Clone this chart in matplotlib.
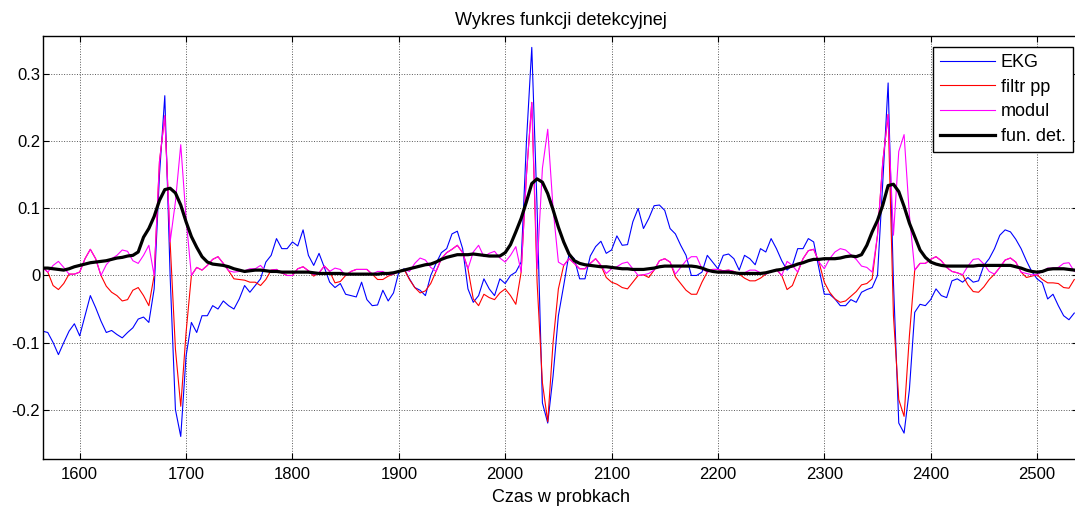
import matplotlib
matplotlib.use('Agg')
import matplotlib.pyplot as plt
import matplotlib.ticker as mtick
import numpy as np

# probki co 5, od 1565 do 2535
probka_start = 1565
probka_krok = 5

ekg = [
    -0.083, -0.085, -0.100, -0.118, -0.100, -0.083, -0.072, -0.090, -0.060, -0.030,
    -0.048, -0.068, -0.085, -0.082, -0.088, -0.093, -0.085, -0.078, -0.065, -0.062,
    -0.070, -0.020, 0.150, 0.268, 0.000, -0.200, -0.240, -0.120, -0.070, -0.085,
    -0.060, -0.060, -0.045, -0.050, -0.038, -0.045, -0.050, -0.035, -0.015, -0.025,
    -0.015, -0.005, 0.020, 0.030, 0.055, 0.040, 0.040, 0.050, 0.044, 0.068,
    0.030, 0.015, 0.033, 0.012, -0.010, -0.018, -0.012, -0.028, -0.030, -0.032,
    -0.010, -0.036, -0.045, -0.044, -0.022, -0.038, -0.026, 0.005, 0.010, -0.005,
    -0.018, -0.022, -0.030, 0.000, 0.018, 0.034, 0.040, 0.062, 0.066, 0.040,
    -0.020, -0.040, -0.030, -0.005, -0.020, -0.030, -0.005, -0.012, 0.000, 0.005,
    0.020, 0.200, 0.340, 0.100, -0.190, -0.220, -0.150, -0.060, -0.015, 0.032,
    0.025, -0.005, -0.005, 0.029, 0.043, 0.051, 0.033, 0.038, 0.059, 0.045,
    0.046, 0.080, 0.100, 0.070, 0.085, 0.104, 0.105, 0.097, 0.070,
    0.062, 0.045, 0.030, 0.000, 0.000, 0.005, 0.030, 0.020, 0.010, 0.030,
    0.032, 0.025, 0.008, 0.030, 0.025, 0.016, 0.040, 0.035, 0.055, 0.040,
    0.022, 0.008, 0.015, 0.040, 0.040, 0.055, 0.050, 0.010, -0.028, -0.028,
    -0.035, -0.045, -0.045, -0.036, -0.040, -0.025, -0.021, -0.018, 0.000, 0.140,
    0.287, -0.010, -0.220, -0.235, -0.170, -0.055, -0.043, -0.045, -0.036, -0.020,
    -0.030, -0.033, -0.008, -0.005, -0.010, -0.003, -0.010, -0.008, 0.015, 0.025,
    0.040, 0.060, 0.068, 0.065, 0.054, 0.040, 0.022, 0.006, -0.005, -0.011,
    -0.035, -0.028, -0.045, -0.060, -0.066, -0.056,
]

filtr_pp = [
    0.012, 0.005, -0.015, -0.021, -0.012, 0.002, 0.002, 0.005, 0.025, 0.039,
    0.025, 0.000, -0.016, -0.025, -0.030, -0.038, -0.036, -0.022, -0.018, -0.030,
    -0.045, 0.000, 0.170, 0.238, 0.050, -0.110, -0.195, -0.085, 0.000, 0.012,
    0.008, 0.015, 0.024, 0.028, 0.018, 0.007, -0.005, -0.006, -0.007, -0.010,
    -0.010, -0.015, -0.006, 0.008, 0.009, 0.004, 0.000, 0.000, 0.010, 0.013,
    0.007, -0.001, 0.004, 0.014, 0.006, -0.011, -0.009, 0.000, 0.006, 0.009,
    0.009, 0.009, 0.002, -0.006, -0.006, -0.001, 0.002, 0.006, 0.009, -0.006,
    -0.018, -0.026, -0.023, -0.012, 0.006, 0.025, 0.034, 0.039, 0.045, 0.034,
    0.010, -0.035, -0.045, -0.028, -0.033, -0.036, -0.026, -0.020, -0.030, -0.043,
    0.005, 0.150, 0.258, -0.010, -0.160, -0.218, -0.100, -0.020, 0.015, 0.025,
    0.018, 0.010, 0.010, 0.018, 0.025, 0.015, -0.003, -0.010, -0.013, -0.018,
    -0.020, -0.010, 0.000, 0.001, -0.003, 0.008, 0.022, 0.025, 0.020,
    -0.002, -0.012, -0.022, -0.028, -0.028, -0.010, 0.005, 0.009, 0.009, 0.007,
    0.008, 0.006, 0.002, -0.004, -0.008, -0.008, -0.004, 0.002, 0.006, 0.009,
    0.000, -0.021, -0.015, 0.005, 0.025, 0.037, 0.039, 0.020, -0.010, -0.025,
    -0.035, -0.040, -0.038, -0.031, -0.024, -0.014, -0.012, -0.005, 0.060, 0.170,
    0.240, -0.060, -0.185, -0.210, -0.090, 0.008, 0.018, 0.018, 0.024, 0.028,
    0.022, 0.012, 0.006, 0.004, 0.001, -0.014, -0.024, -0.025, -0.017, -0.006,
    0.002, 0.012, 0.023, 0.026, 0.020, 0.005, -0.003, -0.001, 0.001, -0.006,
    -0.011, -0.011, -0.012, -0.018, -0.019, -0.006,
]

fun_det = [
    0.011, 0.011, 0.010, 0.009, 0.008, 0.010, 0.013, 0.015, 0.017, 0.019,
    0.020, 0.021, 0.022, 0.024, 0.026, 0.027, 0.029, 0.030, 0.035, 0.057,
    0.070, 0.088, 0.112, 0.128, 0.130, 0.123, 0.105, 0.080, 0.058, 0.042,
    0.028, 0.020, 0.017, 0.016, 0.015, 0.013, 0.010, 0.008, 0.006, 0.007,
    0.008, 0.008, 0.007, 0.006, 0.006, 0.005, 0.005, 0.005, 0.005, 0.005,
    0.005, 0.004, 0.003, 0.003, 0.003, 0.003, 0.003, 0.002, 0.002, 0.002,
    0.002, 0.002, 0.002, 0.002, 0.003, 0.003, 0.004, 0.006, 0.008, 0.010,
    0.012, 0.014, 0.016, 0.017, 0.020, 0.024, 0.027, 0.029, 0.031, 0.031,
    0.031, 0.032, 0.031, 0.030, 0.029, 0.029, 0.029, 0.034, 0.046, 0.065,
    0.085, 0.110, 0.137, 0.144, 0.139, 0.122, 0.098, 0.072, 0.050, 0.032,
    0.022, 0.018, 0.016, 0.015, 0.014, 0.013, 0.013, 0.012, 0.011, 0.010,
    0.010, 0.009, 0.009, 0.009, 0.010, 0.011, 0.013, 0.014, 0.014,
    0.014, 0.014, 0.014, 0.014, 0.013, 0.011, 0.008, 0.006, 0.005, 0.005,
    0.005, 0.004, 0.003, 0.003, 0.003, 0.003, 0.003, 0.004, 0.006, 0.008,
    0.009, 0.012, 0.014, 0.017, 0.019, 0.022, 0.024, 0.024, 0.025, 0.025,
    0.025, 0.026, 0.028, 0.029, 0.028, 0.031, 0.045, 0.065, 0.082, 0.105,
    0.134, 0.136, 0.125, 0.103, 0.078, 0.058, 0.038, 0.027, 0.020, 0.017,
    0.015, 0.014, 0.014, 0.014, 0.014, 0.014, 0.014, 0.015, 0.015, 0.015,
    0.015, 0.015, 0.015, 0.015, 0.013, 0.011, 0.008, 0.006, 0.005, 0.006,
    0.009, 0.010, 0.010, 0.010, 0.009, 0.008,
]

x_ticks = [1600, 1700, 1800, 1900, 2000, 2100, 2200, 2300, 2400, 2500]
y_ticks = [-0.2, -0.1, 0, 0.1, 0.2, 0.3]

plt.rcParams['font.family'] = ['Liberation Sans', 'DejaVu Sans']
plt.rcParams['axes.unicode_minus'] = False

probki = probka_start + probka_krok * np.arange(len(ekg))
modul = np.abs(np.array(filtr_pp))

fig = plt.figure(figsize=(10.75, 5.09), dpi=100)
ax = fig.add_axes([43 / 1075, 50 / 509, 1035 / 1075, 423 / 509])

ax.plot(probki, ekg, color=(0, 0, 1), lw=0.8, label='EKG')
ax.plot(probki, filtr_pp, color=(1, 0, 0), lw=0.8, label='filtr pp')
ax.plot(probki, modul, color=(1, 0, 1), lw=0.8, label='modul')
ax.plot(probki, fun_det, color='k', lw=2.3, label='fun. det.')

ax.set_xlim(1565.5, 2538.5)
ax.set_ylim(-0.2736, 0.357)
ax.set_xticks(x_ticks)
ax.set_yticks(y_ticks)
ax.yaxis.set_major_formatter(mtick.FormatStrFormatter('%g'))
ax.tick_params(direction='in', top=True, right=True, length=4, width=0.8,
               labelsize=12)
ax.tick_params(axis='x', pad=6)
ax.tick_params(axis='y', pad=2)
ax.grid(True, linestyle=':', color='0.35', linewidth=0.7)
for s in ax.spines.values():
    s.set_linewidth(1.0)

ax.set_title('Wykres funkcji detekcyjnej', fontsize=13, pad=8)
ax.set_xlabel('Czas w probkach', fontsize=13, labelpad=5)

leg = ax.legend(loc='upper right', bbox_to_anchor=(0.9952, 0.9747), borderaxespad=0,
                fontsize=13, handlelength=3.05, handletextpad=0.33, labelspacing=0.43,
                borderpad=0.4, fancybox=False, framealpha=1, edgecolor='k')
leg.get_frame().set_linewidth(1.0)

fig.savefig('out.png', dpi=100)
